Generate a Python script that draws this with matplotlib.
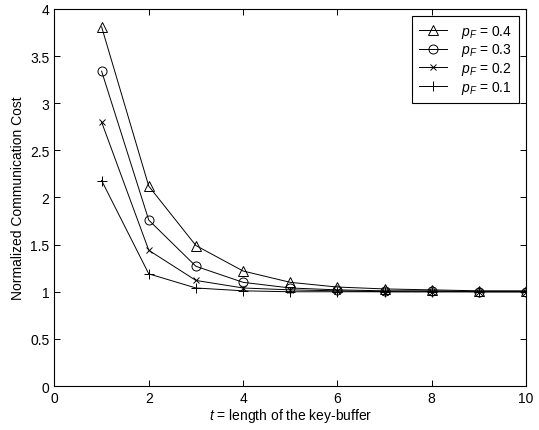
import numpy as np
import matplotlib.pyplot as plt

t = np.arange(1, 11)
cost_04 = [3.81, 2.12, 1.49, 1.22, 1.10, 1.05, 1.03, 1.02, 1.01, 1.01]
cost_03 = [3.34, 1.76, 1.27, 1.10, 1.04, 1.02, 1.01, 1.01, 1.00, 1.00]
cost_02 = [2.80, 1.44, 1.12, 1.04, 1.02, 1.01, 1.00, 1.00, 1.00, 1.00]
cost_01 = [2.18, 1.19, 1.04, 1.01, 1.00, 1.00, 1.00, 1.00, 1.00, 1.00]
labels = ['0.4', '0.3', '0.2', '0.1']
markers = ['^', 'o', 'x', '+']

plt.rcParams['font.family'] = ['Liberation Sans', 'DejaVu Sans']
plt.rcParams['mathtext.fontset'] = 'custom'
plt.rcParams['mathtext.it'] = 'Liberation Sans:italic'
plt.rcParams['mathtext.rm'] = 'Liberation Sans'

fig = plt.figure(figsize=(5.39, 4.31), dpi=100)
ax = fig.add_axes([0.101, 0.102, 0.875, 0.875])

for y, lab, m in zip([cost_04, cost_03, cost_02, cost_01], labels, markers):
    ax.plot(t, y, color='k', lw=0.7, marker=m, ms=6.5 if m != 'x' else 5,
            mfc='none', mec='k', mew=0.7, label='$p_F$ = ' + lab)

ax.set_xlim(0, 10)
ax.set_ylim(0, 4)
ax.set_xticks(range(0, 11, 2))
ax.set_yticks(np.arange(0, 4.01, 0.5))
ax.set_yticklabels(['0', '0.5', '1', '1.5', '2', '2.5', '3', '3.5', '4'])
ax.tick_params(direction='in', top=True, right=True, labelsize=10, length=4,
               width=0.7)
for s in ax.spines.values():
    s.set_linewidth(0.8)
ax.set_xlabel('$t$ = length of the key-buffer', fontsize=10, labelpad=1)
ax.set_ylabel('Normalized Communication Cost', fontsize=10, labelpad=4)

leg = ax.legend(loc='upper right', fontsize=10, fancybox=False, framealpha=1,
                edgecolor='k', borderaxespad=0.5, handlelength=2.0,
                labelspacing=0.12, borderpad=0.5, handletextpad=1.0)
leg.get_frame().set_linewidth(0.8)

fig.savefig('out.png', dpi=100)
